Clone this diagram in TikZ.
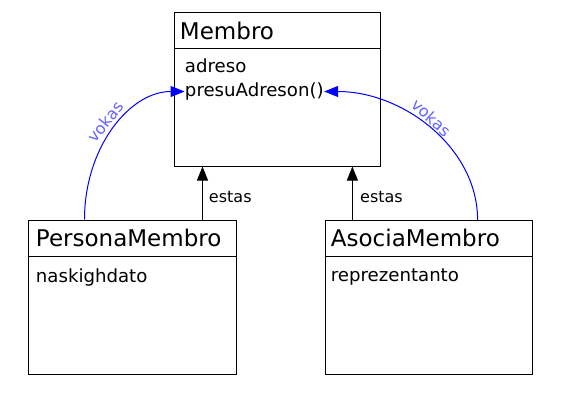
\documentclass[tikz,border=0pt]{standalone}
\usepackage{fontspec}
\setmainfont{DejaVu Sans}
\usetikzlibrary{arrows.meta,calc}

\definecolor{labelblue}{RGB}{100,100,255}
\tikzset{every picture/.style={line width=0.75pt}}
\tikzset{
  classbox/.style={draw, rectangle, inner sep=0pt, minimum height=115.5pt},
  classname/.style={anchor=base west, inner sep=0pt, font=\fontsize{17.25}{20}\selectfont},
  attrib/.style={anchor=base west, inner sep=0pt, font=\fontsize{13.6}{16}\selectfont},
  inherit/.style={-{Triangle[width=8.25pt,length=10.5pt]}},
  uses/.style={blue, -{Triangle[width=8.25pt,length=10.5pt]}},
  linklabel/.style={font=\fontsize{12}{14}\selectfont},
  useslabel/.style={linklabel, text=labelblue, anchor=south, pos=0.5},
}

\begin{document}
\begin{tikzpicture}[x=0.75pt,y=0.75pt,yscale=-1,xscale=1]
\path[use as bounding box, fill=white] (0,0) rectangle (562,400);

%Shape: Class boxes
\node[classbox, minimum width=154.5pt] (membro) at (277,89) {};
\node[classbox, minimum width=156pt] (persona) at (132,297) {};
\node[classbox, minimum width=155pt] (asocia) at (428.75,297.25) {};
%Straight Lines: header dividers
\draw ($(membro.north west)+(0,37)$) -- ($(membro.north east)+(0,37)$) ;
\draw ($(persona.north west)+(0,37)$) -- ($(persona.north east)+(0,37)$) ;
\draw ($(asocia.north west)+(0,36.5)$) -- ($(asocia.north east)+(0,36.5)$) ;

% Text Node
\node[classname] (membroName) at ($(membro.north west)+(6,28)$) {Membro};
\node[attrib] (adreso) at ($(membro.north west)+(11,61)$) {adreso};
\node[attrib] (presuAdreson) at ($(membro.north west)+(11,85)$) {presuAdreson()};
% Text Node
\node[classname] (personaName) at ($(persona.north west)+(8,27)$) {PersonaMembro};
\node[attrib] (naskighdato) at ($(persona.north west)+(8,63)$) {naskighdato};
% Text Node
\node[classname] (asociaName) at ($(asocia.north west)+(5.5,26.5)$) {AsociaMembro};
\node[attrib] (reprezentanto) at ($(asocia.north west)+(5.5,61.5)$) {reprezentanto};

%Straight Lines: inheritance
\draw[inherit] ([xshift=-25.5pt]persona.north east) coordinate (estasL) -- (estasL |- membro.south)
  node[linklabel, pos=0.42, right=4.5pt, inner sep=0pt] (estasLabelL) {estas} ;
\draw[inherit] ([xshift=20.6pt]asocia.north west) coordinate (estasR) -- (estasR |- membro.south)
  node[linklabel, pos=0.42, right=5.5pt, inner sep=0pt] (estasLabelR) {estas} ;

%Curves: usage (quarter ellipses)
\draw[uses] ([xshift=42.75pt]persona.north west) .. controls +(0,-72) and +(-55,0) ..
  node[useslabel, rotate=52, inner sep=3pt] (vokasL) {vokas} (presuAdreson.west) ;
\draw[uses] ([xshift=-41.25pt]asocia.north east) .. controls +(0,-72) and +(79,0) ..
  node[useslabel, rotate=-42, inner sep=2pt, pos=0.53] (vokasR) {vokas} (presuAdreson.east) ;
\end{tikzpicture}
\end{document}
